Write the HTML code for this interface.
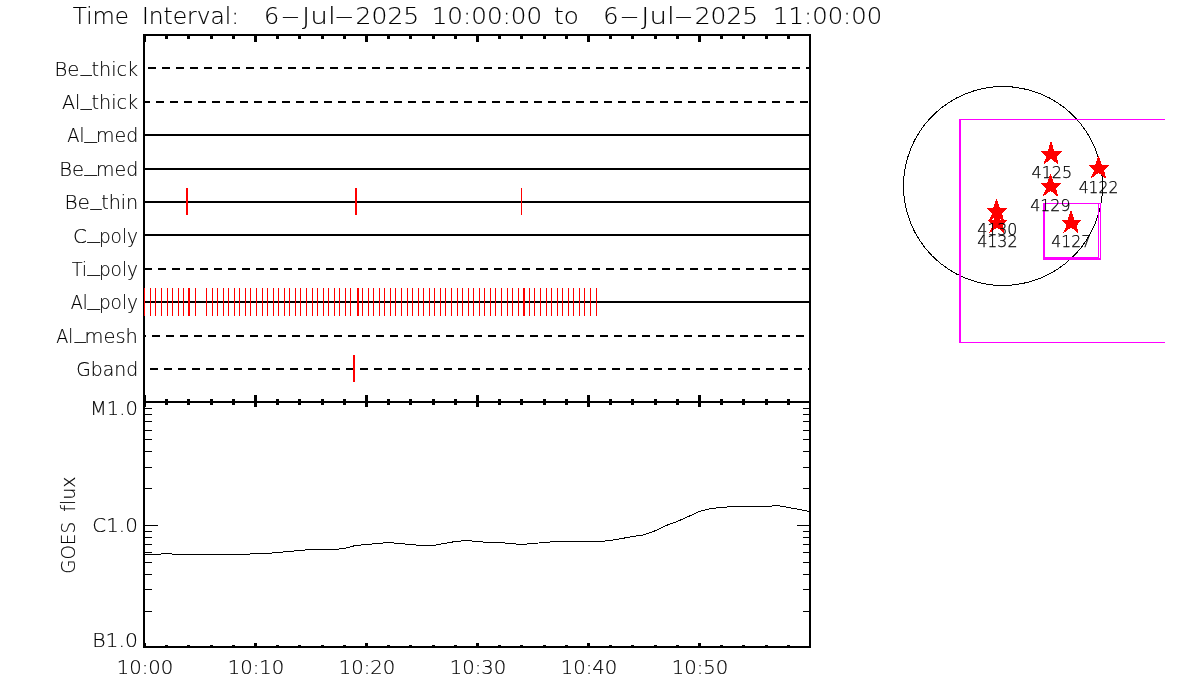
<!DOCTYPE html>
<html lang="en"><head><meta charset="utf-8"><title>Time Interval: 6-Jul-2025 10:00:00 to 6-Jul-2025 11:00:00</title>
<style>
html,body{margin:0;padding:0;background:#fff;overflow:hidden}
svg{display:block}
text{font-family:"DejaVu Sans Light","DejaVu Sans","Liberation Sans",sans-serif;font-weight:200;fill:#000;stroke:#000;stroke-width:0.15px;white-space:pre;font-variant-ligatures:none}
.ar{stroke-width:0.25px}
</style></head>
<body>
<svg width="1200" height="700" viewBox="0 0 1200 700">
<rect width="1200" height="700" fill="#fff"/>
<g id="plot" shape-rendering="crispEdges">
<rect x="143" y="34" width="2" height="614"/>
<rect x="809" y="34" width="2" height="614"/>
<rect x="143" y="34" width="668" height="2"/>
<rect x="143" y="401" width="668" height="2"/>
<rect x="143" y="646" width="668" height="2"/>
<rect x="143" y="36" width="3" height="6"/>
<rect x="143" y="395" width="3" height="12"/>
<rect x="143" y="643" width="3" height="3"/>
<rect x="165" y="36" width="3" height="3"/>
<rect x="165" y="399" width="3" height="6"/>
<rect x="165" y="645" width="3" height="1"/>
<rect x="187" y="36" width="3" height="3"/>
<rect x="187" y="399" width="3" height="6"/>
<rect x="187" y="645" width="3" height="1"/>
<rect x="210" y="36" width="3" height="3"/>
<rect x="210" y="399" width="3" height="6"/>
<rect x="210" y="645" width="3" height="1"/>
<rect x="232" y="36" width="3" height="3"/>
<rect x="232" y="399" width="3" height="6"/>
<rect x="232" y="645" width="3" height="1"/>
<rect x="254" y="36" width="3" height="6"/>
<rect x="254" y="395" width="3" height="12"/>
<rect x="254" y="643" width="3" height="3"/>
<rect x="276" y="36" width="3" height="3"/>
<rect x="276" y="399" width="3" height="6"/>
<rect x="276" y="645" width="3" height="1"/>
<rect x="298" y="36" width="3" height="3"/>
<rect x="298" y="399" width="3" height="6"/>
<rect x="298" y="645" width="3" height="1"/>
<rect x="321" y="36" width="3" height="3"/>
<rect x="321" y="399" width="3" height="6"/>
<rect x="321" y="645" width="3" height="1"/>
<rect x="343" y="36" width="3" height="3"/>
<rect x="343" y="399" width="3" height="6"/>
<rect x="343" y="645" width="3" height="1"/>
<rect x="365" y="36" width="3" height="6"/>
<rect x="365" y="395" width="3" height="12"/>
<rect x="365" y="643" width="3" height="3"/>
<rect x="387" y="36" width="3" height="3"/>
<rect x="387" y="399" width="3" height="6"/>
<rect x="387" y="645" width="3" height="1"/>
<rect x="409" y="36" width="3" height="3"/>
<rect x="409" y="399" width="3" height="6"/>
<rect x="409" y="645" width="3" height="1"/>
<rect x="432" y="36" width="3" height="3"/>
<rect x="432" y="399" width="3" height="6"/>
<rect x="432" y="645" width="3" height="1"/>
<rect x="454" y="36" width="3" height="3"/>
<rect x="454" y="399" width="3" height="6"/>
<rect x="454" y="645" width="3" height="1"/>
<rect x="476" y="36" width="3" height="6"/>
<rect x="476" y="395" width="3" height="12"/>
<rect x="476" y="643" width="3" height="3"/>
<rect x="498" y="36" width="3" height="3"/>
<rect x="498" y="399" width="3" height="6"/>
<rect x="498" y="645" width="3" height="1"/>
<rect x="520" y="36" width="3" height="3"/>
<rect x="520" y="399" width="3" height="6"/>
<rect x="520" y="645" width="3" height="1"/>
<rect x="543" y="36" width="3" height="3"/>
<rect x="543" y="399" width="3" height="6"/>
<rect x="543" y="645" width="3" height="1"/>
<rect x="565" y="36" width="3" height="3"/>
<rect x="565" y="399" width="3" height="6"/>
<rect x="565" y="645" width="3" height="1"/>
<rect x="587" y="36" width="3" height="6"/>
<rect x="587" y="395" width="3" height="12"/>
<rect x="587" y="643" width="3" height="3"/>
<rect x="609" y="36" width="3" height="3"/>
<rect x="609" y="399" width="3" height="6"/>
<rect x="609" y="645" width="3" height="1"/>
<rect x="631" y="36" width="3" height="3"/>
<rect x="631" y="399" width="3" height="6"/>
<rect x="631" y="645" width="3" height="1"/>
<rect x="654" y="36" width="3" height="3"/>
<rect x="654" y="399" width="3" height="6"/>
<rect x="654" y="645" width="3" height="1"/>
<rect x="676" y="36" width="3" height="3"/>
<rect x="676" y="399" width="3" height="6"/>
<rect x="676" y="645" width="3" height="1"/>
<rect x="698" y="36" width="3" height="6"/>
<rect x="698" y="395" width="3" height="12"/>
<rect x="698" y="643" width="3" height="3"/>
<rect x="720" y="36" width="3" height="3"/>
<rect x="720" y="399" width="3" height="6"/>
<rect x="720" y="645" width="3" height="1"/>
<rect x="742" y="36" width="3" height="3"/>
<rect x="742" y="399" width="3" height="6"/>
<rect x="742" y="645" width="3" height="1"/>
<rect x="765" y="36" width="3" height="3"/>
<rect x="765" y="399" width="3" height="6"/>
<rect x="765" y="645" width="3" height="1"/>
<rect x="787" y="36" width="3" height="3"/>
<rect x="787" y="399" width="3" height="6"/>
<rect x="787" y="645" width="3" height="1"/>
<rect x="809" y="36" width="2" height="6"/>
<rect x="809" y="395" width="2" height="12"/>
<rect x="809" y="643" width="2" height="3"/>
<rect x="148" y="67" width="8" height="2"/>
<rect x="162" y="67" width="8" height="2"/>
<rect x="176" y="67" width="8" height="2"/>
<rect x="190" y="67" width="8" height="2"/>
<rect x="204" y="67" width="8" height="2"/>
<rect x="218" y="67" width="8" height="2"/>
<rect x="232" y="67" width="8" height="2"/>
<rect x="246" y="67" width="8" height="2"/>
<rect x="260" y="67" width="8" height="2"/>
<rect x="274" y="67" width="8" height="2"/>
<rect x="288" y="67" width="8" height="2"/>
<rect x="302" y="67" width="8" height="2"/>
<rect x="316" y="67" width="8" height="2"/>
<rect x="330" y="67" width="8" height="2"/>
<rect x="344" y="67" width="8" height="2"/>
<rect x="358" y="67" width="8" height="2"/>
<rect x="372" y="67" width="8" height="2"/>
<rect x="386" y="67" width="8" height="2"/>
<rect x="400" y="67" width="8" height="2"/>
<rect x="414" y="67" width="8" height="2"/>
<rect x="428" y="67" width="8" height="2"/>
<rect x="442" y="67" width="8" height="2"/>
<rect x="456" y="67" width="8" height="2"/>
<rect x="470" y="67" width="8" height="2"/>
<rect x="484" y="67" width="8" height="2"/>
<rect x="498" y="67" width="8" height="2"/>
<rect x="512" y="67" width="8" height="2"/>
<rect x="526" y="67" width="8" height="2"/>
<rect x="540" y="67" width="8" height="2"/>
<rect x="554" y="67" width="8" height="2"/>
<rect x="568" y="67" width="8" height="2"/>
<rect x="582" y="67" width="8" height="2"/>
<rect x="596" y="67" width="8" height="2"/>
<rect x="610" y="67" width="8" height="2"/>
<rect x="624" y="67" width="8" height="2"/>
<rect x="638" y="67" width="8" height="2"/>
<rect x="652" y="67" width="8" height="2"/>
<rect x="666" y="67" width="8" height="2"/>
<rect x="680" y="67" width="8" height="2"/>
<rect x="694" y="67" width="8" height="2"/>
<rect x="708" y="67" width="8" height="2"/>
<rect x="722" y="67" width="8" height="2"/>
<rect x="736" y="67" width="8" height="2"/>
<rect x="750" y="67" width="8" height="2"/>
<rect x="764" y="67" width="8" height="2"/>
<rect x="778" y="67" width="8" height="2"/>
<rect x="792" y="67" width="8" height="2"/>
<rect x="806" y="67" width="3" height="2"/>
<rect x="145" y="101" width="5" height="2"/>
<rect x="156" y="101" width="8" height="2"/>
<rect x="170" y="101" width="8" height="2"/>
<rect x="184" y="101" width="8" height="2"/>
<rect x="198" y="101" width="8" height="2"/>
<rect x="212" y="101" width="8" height="2"/>
<rect x="226" y="101" width="8" height="2"/>
<rect x="240" y="101" width="8" height="2"/>
<rect x="254" y="101" width="8" height="2"/>
<rect x="268" y="101" width="8" height="2"/>
<rect x="282" y="101" width="8" height="2"/>
<rect x="296" y="101" width="8" height="2"/>
<rect x="310" y="101" width="8" height="2"/>
<rect x="324" y="101" width="8" height="2"/>
<rect x="338" y="101" width="8" height="2"/>
<rect x="352" y="101" width="8" height="2"/>
<rect x="366" y="101" width="8" height="2"/>
<rect x="380" y="101" width="8" height="2"/>
<rect x="394" y="101" width="8" height="2"/>
<rect x="408" y="101" width="8" height="2"/>
<rect x="422" y="101" width="8" height="2"/>
<rect x="436" y="101" width="8" height="2"/>
<rect x="450" y="101" width="8" height="2"/>
<rect x="464" y="101" width="8" height="2"/>
<rect x="478" y="101" width="8" height="2"/>
<rect x="492" y="101" width="8" height="2"/>
<rect x="506" y="101" width="8" height="2"/>
<rect x="520" y="101" width="8" height="2"/>
<rect x="534" y="101" width="8" height="2"/>
<rect x="548" y="101" width="8" height="2"/>
<rect x="562" y="101" width="8" height="2"/>
<rect x="576" y="101" width="8" height="2"/>
<rect x="590" y="101" width="8" height="2"/>
<rect x="604" y="101" width="8" height="2"/>
<rect x="618" y="101" width="8" height="2"/>
<rect x="632" y="101" width="8" height="2"/>
<rect x="646" y="101" width="8" height="2"/>
<rect x="660" y="101" width="8" height="2"/>
<rect x="674" y="101" width="8" height="2"/>
<rect x="688" y="101" width="8" height="2"/>
<rect x="702" y="101" width="8" height="2"/>
<rect x="716" y="101" width="8" height="2"/>
<rect x="730" y="101" width="8" height="2"/>
<rect x="744" y="101" width="8" height="2"/>
<rect x="758" y="101" width="8" height="2"/>
<rect x="772" y="101" width="8" height="2"/>
<rect x="786" y="101" width="8" height="2"/>
<rect x="800" y="101" width="8" height="2"/>
<rect x="145" y="134" width="664" height="2"/>
<rect x="145" y="168" width="664" height="2"/>
<rect x="145" y="201" width="664" height="2"/>
<rect x="145" y="234" width="664" height="2"/>
<rect x="145" y="268" width="7" height="2"/>
<rect x="158" y="268" width="8" height="2"/>
<rect x="172" y="268" width="8" height="2"/>
<rect x="186" y="268" width="8" height="2"/>
<rect x="200" y="268" width="8" height="2"/>
<rect x="214" y="268" width="8" height="2"/>
<rect x="228" y="268" width="8" height="2"/>
<rect x="242" y="268" width="8" height="2"/>
<rect x="256" y="268" width="8" height="2"/>
<rect x="270" y="268" width="8" height="2"/>
<rect x="284" y="268" width="8" height="2"/>
<rect x="298" y="268" width="8" height="2"/>
<rect x="312" y="268" width="8" height="2"/>
<rect x="326" y="268" width="8" height="2"/>
<rect x="340" y="268" width="8" height="2"/>
<rect x="354" y="268" width="8" height="2"/>
<rect x="368" y="268" width="8" height="2"/>
<rect x="382" y="268" width="8" height="2"/>
<rect x="396" y="268" width="8" height="2"/>
<rect x="410" y="268" width="8" height="2"/>
<rect x="424" y="268" width="8" height="2"/>
<rect x="438" y="268" width="8" height="2"/>
<rect x="452" y="268" width="8" height="2"/>
<rect x="466" y="268" width="8" height="2"/>
<rect x="480" y="268" width="8" height="2"/>
<rect x="494" y="268" width="8" height="2"/>
<rect x="508" y="268" width="8" height="2"/>
<rect x="522" y="268" width="8" height="2"/>
<rect x="536" y="268" width="8" height="2"/>
<rect x="550" y="268" width="8" height="2"/>
<rect x="564" y="268" width="8" height="2"/>
<rect x="578" y="268" width="8" height="2"/>
<rect x="592" y="268" width="8" height="2"/>
<rect x="606" y="268" width="8" height="2"/>
<rect x="620" y="268" width="8" height="2"/>
<rect x="634" y="268" width="8" height="2"/>
<rect x="648" y="268" width="8" height="2"/>
<rect x="662" y="268" width="8" height="2"/>
<rect x="676" y="268" width="8" height="2"/>
<rect x="690" y="268" width="8" height="2"/>
<rect x="704" y="268" width="8" height="2"/>
<rect x="718" y="268" width="8" height="2"/>
<rect x="732" y="268" width="8" height="2"/>
<rect x="746" y="268" width="8" height="2"/>
<rect x="760" y="268" width="8" height="2"/>
<rect x="774" y="268" width="8" height="2"/>
<rect x="788" y="268" width="8" height="2"/>
<rect x="802" y="268" width="7" height="2"/>
<rect x="145" y="301" width="664" height="2"/>
<rect x="145" y="335" width="1" height="2"/>
<rect x="152" y="335" width="8" height="2"/>
<rect x="166" y="335" width="8" height="2"/>
<rect x="180" y="335" width="8" height="2"/>
<rect x="194" y="335" width="8" height="2"/>
<rect x="208" y="335" width="8" height="2"/>
<rect x="222" y="335" width="8" height="2"/>
<rect x="236" y="335" width="8" height="2"/>
<rect x="250" y="335" width="8" height="2"/>
<rect x="264" y="335" width="8" height="2"/>
<rect x="278" y="335" width="8" height="2"/>
<rect x="292" y="335" width="8" height="2"/>
<rect x="306" y="335" width="8" height="2"/>
<rect x="320" y="335" width="8" height="2"/>
<rect x="334" y="335" width="8" height="2"/>
<rect x="348" y="335" width="8" height="2"/>
<rect x="362" y="335" width="8" height="2"/>
<rect x="376" y="335" width="8" height="2"/>
<rect x="390" y="335" width="8" height="2"/>
<rect x="404" y="335" width="8" height="2"/>
<rect x="418" y="335" width="8" height="2"/>
<rect x="432" y="335" width="8" height="2"/>
<rect x="446" y="335" width="8" height="2"/>
<rect x="460" y="335" width="8" height="2"/>
<rect x="474" y="335" width="8" height="2"/>
<rect x="488" y="335" width="8" height="2"/>
<rect x="502" y="335" width="8" height="2"/>
<rect x="516" y="335" width="8" height="2"/>
<rect x="530" y="335" width="8" height="2"/>
<rect x="544" y="335" width="8" height="2"/>
<rect x="558" y="335" width="8" height="2"/>
<rect x="572" y="335" width="8" height="2"/>
<rect x="586" y="335" width="8" height="2"/>
<rect x="600" y="335" width="8" height="2"/>
<rect x="614" y="335" width="8" height="2"/>
<rect x="628" y="335" width="8" height="2"/>
<rect x="642" y="335" width="8" height="2"/>
<rect x="656" y="335" width="8" height="2"/>
<rect x="670" y="335" width="8" height="2"/>
<rect x="684" y="335" width="8" height="2"/>
<rect x="698" y="335" width="8" height="2"/>
<rect x="712" y="335" width="8" height="2"/>
<rect x="726" y="335" width="8" height="2"/>
<rect x="740" y="335" width="8" height="2"/>
<rect x="754" y="335" width="8" height="2"/>
<rect x="768" y="335" width="8" height="2"/>
<rect x="782" y="335" width="8" height="2"/>
<rect x="796" y="335" width="8" height="2"/>
<rect x="150" y="368" width="8" height="2"/>
<rect x="164" y="368" width="8" height="2"/>
<rect x="178" y="368" width="8" height="2"/>
<rect x="192" y="368" width="8" height="2"/>
<rect x="206" y="368" width="8" height="2"/>
<rect x="220" y="368" width="8" height="2"/>
<rect x="234" y="368" width="8" height="2"/>
<rect x="248" y="368" width="8" height="2"/>
<rect x="262" y="368" width="8" height="2"/>
<rect x="276" y="368" width="8" height="2"/>
<rect x="290" y="368" width="8" height="2"/>
<rect x="304" y="368" width="8" height="2"/>
<rect x="318" y="368" width="8" height="2"/>
<rect x="332" y="368" width="8" height="2"/>
<rect x="346" y="368" width="8" height="2"/>
<rect x="360" y="368" width="8" height="2"/>
<rect x="374" y="368" width="8" height="2"/>
<rect x="388" y="368" width="8" height="2"/>
<rect x="402" y="368" width="8" height="2"/>
<rect x="416" y="368" width="8" height="2"/>
<rect x="430" y="368" width="8" height="2"/>
<rect x="444" y="368" width="8" height="2"/>
<rect x="458" y="368" width="8" height="2"/>
<rect x="472" y="368" width="8" height="2"/>
<rect x="486" y="368" width="8" height="2"/>
<rect x="500" y="368" width="8" height="2"/>
<rect x="514" y="368" width="8" height="2"/>
<rect x="528" y="368" width="8" height="2"/>
<rect x="542" y="368" width="8" height="2"/>
<rect x="556" y="368" width="8" height="2"/>
<rect x="570" y="368" width="8" height="2"/>
<rect x="584" y="368" width="8" height="2"/>
<rect x="598" y="368" width="8" height="2"/>
<rect x="612" y="368" width="8" height="2"/>
<rect x="626" y="368" width="8" height="2"/>
<rect x="640" y="368" width="8" height="2"/>
<rect x="654" y="368" width="8" height="2"/>
<rect x="668" y="368" width="8" height="2"/>
<rect x="682" y="368" width="8" height="2"/>
<rect x="696" y="368" width="8" height="2"/>
<rect x="710" y="368" width="8" height="2"/>
<rect x="724" y="368" width="8" height="2"/>
<rect x="738" y="368" width="8" height="2"/>
<rect x="752" y="368" width="8" height="2"/>
<rect x="766" y="368" width="8" height="2"/>
<rect x="780" y="368" width="8" height="2"/>
<rect x="794" y="368" width="8" height="2"/>
<rect x="808" y="368" width="1" height="2"/>
<rect x="145" y="408" width="7" height="1"/>
<rect x="803" y="408" width="6" height="1"/>
<rect x="145" y="414" width="7" height="1"/>
<rect x="803" y="414" width="6" height="1"/>
<rect x="145" y="421" width="7" height="1"/>
<rect x="803" y="421" width="6" height="1"/>
<rect x="145" y="430" width="7" height="1"/>
<rect x="803" y="430" width="6" height="1"/>
<rect x="145" y="439" width="7" height="1"/>
<rect x="803" y="439" width="6" height="1"/>
<rect x="145" y="451" width="7" height="1"/>
<rect x="803" y="451" width="6" height="1"/>
<rect x="145" y="467" width="7" height="1"/>
<rect x="803" y="467" width="6" height="1"/>
<rect x="145" y="488" width="7" height="1"/>
<rect x="803" y="488" width="6" height="1"/>
<rect x="145" y="531" width="7" height="1"/>
<rect x="803" y="531" width="6" height="1"/>
<rect x="145" y="537" width="7" height="1"/>
<rect x="803" y="537" width="6" height="1"/>
<rect x="145" y="544" width="7" height="1"/>
<rect x="803" y="544" width="6" height="1"/>
<rect x="145" y="552" width="7" height="1"/>
<rect x="803" y="552" width="6" height="1"/>
<rect x="145" y="562" width="7" height="1"/>
<rect x="803" y="562" width="6" height="1"/>
<rect x="145" y="574" width="7" height="1"/>
<rect x="803" y="574" width="6" height="1"/>
<rect x="145" y="589" width="7" height="1"/>
<rect x="803" y="589" width="6" height="1"/>
<rect x="145" y="611" width="7" height="1"/>
<rect x="803" y="611" width="6" height="1"/>
<rect x="145" y="525" width="13" height="1"/>
<rect x="797" y="525" width="12" height="1"/>
<polyline points="144.5,554.5 155.6,554.5 166.7,553.5 177.8,554.5 188.9,554.5 200.0,554.5 211.1,554.5 222.2,554.5 233.3,554.5 244.4,554.5 255.5,553.5 266.6,553.5 277.7,552.5 288.8,551.5 299.9,550.5 311.0,549.5 322.1,549.5 333.2,549.5 344.3,548.5 355.4,545.5 366.5,544.5 377.6,543.5 388.7,542.5 399.8,543.5 410.9,544.5 422.0,545.5 433.1,545.5 444.2,543.5 455.3,541.5 466.4,540.5 477.5,541.5 488.6,542.5 499.7,542.5 510.8,543.5 521.9,544.5 533.0,543.5 544.1,542.5 555.2,541.5 566.3,541.5 577.4,541.5 588.5,541.5 599.6,541.5 610.7,540.5 621.8,538.5 632.9,536.5 644.0,534.8 655.1,530.8 666.2,525.5 677.3,521.5 688.4,516.5 699.5,511.5 710.6,508.5 721.7,507.5 732.8,506.5 743.9,506.5 755.0,506.5 766.1,506.5 777.2,505.5 788.3,507.5 799.4,509.5 809.5,511.5" fill="none" stroke="#000" stroke-width="1"/>
<rect x="186" y="188" width="2" height="27" fill="#f00"/>
<rect x="355" y="188" width="2" height="27" fill="#f00"/>
<rect x="521" y="188" width="1" height="27" fill="#f00"/>
<rect x="144" y="288" width="1" height="28" fill="#f00"/>
<rect x="150" y="288" width="1" height="28" fill="#f00"/>
<rect x="155" y="288" width="1" height="28" fill="#f00"/>
<rect x="161" y="288" width="1" height="28" fill="#f00"/>
<rect x="167" y="288" width="1" height="28" fill="#f00"/>
<rect x="172" y="288" width="1" height="28" fill="#f00"/>
<rect x="178" y="288" width="1" height="28" fill="#f00"/>
<rect x="183" y="288" width="1" height="28" fill="#f00"/>
<rect x="188" y="288" width="2" height="28" fill="#f00"/>
<rect x="195" y="288" width="1" height="28" fill="#f00"/>
<rect x="206" y="288" width="1" height="28" fill="#f00"/>
<rect x="212" y="288" width="1" height="28" fill="#f00"/>
<rect x="217" y="288" width="1" height="28" fill="#f00"/>
<rect x="223" y="288" width="1" height="28" fill="#f00"/>
<rect x="228" y="288" width="1" height="28" fill="#f00"/>
<rect x="234" y="288" width="1" height="28" fill="#f00"/>
<rect x="239" y="288" width="1" height="28" fill="#f00"/>
<rect x="245" y="288" width="1" height="28" fill="#f00"/>
<rect x="250" y="288" width="1" height="28" fill="#f00"/>
<rect x="256" y="288" width="1" height="28" fill="#f00"/>
<rect x="262" y="288" width="1" height="28" fill="#f00"/>
<rect x="267" y="288" width="1" height="28" fill="#f00"/>
<rect x="273" y="288" width="1" height="28" fill="#f00"/>
<rect x="278" y="288" width="1" height="28" fill="#f00"/>
<rect x="284" y="288" width="1" height="28" fill="#f00"/>
<rect x="289" y="288" width="1" height="28" fill="#f00"/>
<rect x="295" y="288" width="1" height="28" fill="#f00"/>
<rect x="300" y="288" width="1" height="28" fill="#f00"/>
<rect x="306" y="288" width="1" height="28" fill="#f00"/>
<rect x="312" y="288" width="1" height="28" fill="#f00"/>
<rect x="317" y="288" width="1" height="28" fill="#f00"/>
<rect x="323" y="288" width="1" height="28" fill="#f00"/>
<rect x="328" y="288" width="1" height="28" fill="#f00"/>
<rect x="334" y="288" width="1" height="28" fill="#f00"/>
<rect x="339" y="288" width="1" height="28" fill="#f00"/>
<rect x="345" y="288" width="1" height="28" fill="#f00"/>
<rect x="350" y="288" width="1" height="28" fill="#f00"/>
<rect x="357" y="288" width="2" height="28" fill="#f00"/>
<rect x="362" y="288" width="1" height="28" fill="#f00"/>
<rect x="368" y="288" width="1" height="28" fill="#f00"/>
<rect x="373" y="288" width="1" height="28" fill="#f00"/>
<rect x="379" y="288" width="1" height="28" fill="#f00"/>
<rect x="384" y="288" width="1" height="28" fill="#f00"/>
<rect x="390" y="288" width="1" height="28" fill="#f00"/>
<rect x="395" y="288" width="1" height="28" fill="#f00"/>
<rect x="401" y="288" width="1" height="28" fill="#f00"/>
<rect x="407" y="288" width="1" height="28" fill="#f00"/>
<rect x="412" y="288" width="1" height="28" fill="#f00"/>
<rect x="418" y="288" width="1" height="28" fill="#f00"/>
<rect x="423" y="288" width="1" height="28" fill="#f00"/>
<rect x="429" y="288" width="1" height="28" fill="#f00"/>
<rect x="434" y="288" width="1" height="28" fill="#f00"/>
<rect x="440" y="288" width="1" height="28" fill="#f00"/>
<rect x="445" y="288" width="1" height="28" fill="#f00"/>
<rect x="451" y="288" width="1" height="28" fill="#f00"/>
<rect x="457" y="288" width="1" height="28" fill="#f00"/>
<rect x="462" y="288" width="1" height="28" fill="#f00"/>
<rect x="468" y="288" width="1" height="28" fill="#f00"/>
<rect x="473" y="288" width="1" height="28" fill="#f00"/>
<rect x="479" y="288" width="1" height="28" fill="#f00"/>
<rect x="484" y="288" width="1" height="28" fill="#f00"/>
<rect x="490" y="288" width="1" height="28" fill="#f00"/>
<rect x="495" y="288" width="1" height="28" fill="#f00"/>
<rect x="501" y="288" width="1" height="28" fill="#f00"/>
<rect x="507" y="288" width="1" height="28" fill="#f00"/>
<rect x="512" y="288" width="1" height="28" fill="#f00"/>
<rect x="518" y="288" width="1" height="28" fill="#f00"/>
<rect x="523" y="288" width="2" height="28" fill="#f00"/>
<rect x="529" y="288" width="1" height="28" fill="#f00"/>
<rect x="534" y="288" width="1" height="28" fill="#f00"/>
<rect x="540" y="288" width="1" height="28" fill="#f00"/>
<rect x="546" y="288" width="1" height="28" fill="#f00"/>
<rect x="551" y="288" width="1" height="28" fill="#f00"/>
<rect x="557" y="288" width="1" height="28" fill="#f00"/>
<rect x="562" y="288" width="1" height="28" fill="#f00"/>
<rect x="568" y="288" width="1" height="28" fill="#f00"/>
<rect x="573" y="288" width="1" height="28" fill="#f00"/>
<rect x="579" y="288" width="1" height="28" fill="#f00"/>
<rect x="584" y="288" width="1" height="28" fill="#f00"/>
<rect x="590" y="288" width="1" height="28" fill="#f00"/>
<rect x="596" y="288" width="1" height="28" fill="#f00"/>
<rect x="353" y="355" width="2" height="27" fill="#f00"/>
</g>
<g id="disk" shape-rendering="crispEdges">
<circle cx="1003" cy="186" r="99.5" fill="none" stroke="#000" stroke-width="1"/>
<rect x="959" y="119" width="2" height="224" fill="#f0f"/>
<rect x="959" y="119" width="206" height="1" fill="#f0f"/>
<rect x="959" y="342" width="206" height="1" fill="#f0f"/>
<rect x="1043" y="203" width="2" height="56" fill="#f0f"/>
<rect x="1043" y="203" width="58" height="1" fill="#f0f"/>
<rect x="1098" y="203" width="1" height="55" fill="#f0f"/>
<rect x="1100" y="203" width="1" height="57" fill="#f0f"/>
<rect x="1043" y="257" width="56" height="1" fill="#f0f"/>
<rect x="1043" y="258" width="58" height="2" fill="#f0f"/>
<polygon points="1098.0,155.9 1099.0,155.9 1101.7,164.9 1109.4,164.9 1109.4,165.3 1104.2,170.8 1105.9,177.9 1104.9,177.9 1098.5,172.8 1091.8,177.9 1090.8,177.9 1094.0,170.8 1088.6,165.3 1088.6,164.9 1095.3,164.9" fill="#f00"/>
<text y="193" font-size="16" class="ar"><tspan id="a4122" x="1078.70" textLength="39.69" lengthAdjust="spacingAndGlyphs">4122</tspan></text>
<polygon points="1050.5,142.0 1051.5,142.0 1054.2,151.0 1061.9,151.1 1061.9,151.4 1056.7,156.9 1058.4,164.0 1057.4,164.0 1051.0,158.9 1044.3,164.0 1043.3,164.0 1046.5,156.9 1041.1,151.4 1041.1,151.1 1047.8,151.0" fill="#f00"/>
<text y="178" font-size="16" class="ar"><tspan id="a4125" x="1031.59" textLength="40.58" lengthAdjust="spacingAndGlyphs">4125</tspan></text>
<polygon points="1070.5,210.5 1071.5,210.5 1074.2,219.5 1081.9,219.6 1081.9,219.9 1076.7,225.4 1078.4,232.5 1077.4,232.5 1071.0,227.4 1064.3,232.5 1063.3,232.5 1066.5,225.4 1061.1,219.9 1061.1,219.6 1067.8,219.5" fill="#f00"/>
<text y="247" font-size="16" class="ar"><tspan id="a4127" x="1051.33" textLength="39.79" lengthAdjust="spacingAndGlyphs">4127</tspan></text>
<polygon points="1050.0,173.9 1051.0,173.9 1053.7,182.9 1061.4,182.9 1061.4,183.3 1056.2,188.8 1057.9,195.9 1056.9,195.9 1050.5,190.8 1043.8,195.9 1042.8,195.9 1046.0,188.8 1040.6,183.3 1040.6,182.9 1047.3,182.9" fill="#f00"/>
<text y="211" font-size="16" class="ar"><tspan id="a4129" x="1030.21" textLength="40.27" lengthAdjust="spacingAndGlyphs">4129</tspan></text>
<polygon points="996.5,210.5 997.5,210.5 1000.2,219.5 1007.9,219.6 1007.9,219.9 1002.7,225.4 1004.4,232.5 1003.4,232.5 997.0,227.4 990.3,232.5 989.3,232.5 992.5,225.4 987.1,219.9 987.1,219.6 993.8,219.5" fill="#f00"/>
<text y="247" font-size="16" class="ar"><tspan id="a4132" x="977.13" textLength="40.44" lengthAdjust="spacingAndGlyphs">4132</tspan></text>
<polygon points="996.0,198.9 997.0,198.9 999.7,207.9 1007.4,207.9 1007.4,208.3 1002.2,213.8 1003.9,220.9 1002.9,220.9 996.5,215.8 989.8,220.9 988.8,220.9 992.0,213.8 986.6,208.3 986.6,207.9 993.3,207.9" fill="#f00"/>
<text y="235" font-size="16" class="ar"><tspan id="a4130" x="977.17" textLength="40.26" lengthAdjust="spacingAndGlyphs">4130</tspan></text>
</g>
<g id="labels">
<text y="24" font-size="22.9"><tspan id="t0" x="72.85" textLength="56.06" lengthAdjust="spacingAndGlyphs">Time</tspan> <tspan id="t1" x="141.90" textLength="97.29" lengthAdjust="spacingAndGlyphs">Interval:</tspan>  <tspan id="t2" x="264.11" textLength="15.22" lengthAdjust="spacingAndGlyphs">6</tspan><tspan id="t3" x="280.24" textLength="20.39" lengthAdjust="spacingAndGlyphs">-</tspan><tspan id="t4" x="302.00" textLength="33.72" lengthAdjust="spacingAndGlyphs">Jul</tspan><tspan id="t5" x="334.05" textLength="20.60" lengthAdjust="spacingAndGlyphs">-</tspan><tspan id="t6" x="355.62" textLength="63.68" lengthAdjust="spacingAndGlyphs">2025</tspan> <tspan id="t7" x="431.69" textLength="110.40" lengthAdjust="spacingAndGlyphs">10:00:00</tspan> <tspan id="t8" x="554.02" textLength="24.71" lengthAdjust="spacingAndGlyphs">to</tspan>  <tspan id="t9" x="603.29" textLength="15.22" lengthAdjust="spacingAndGlyphs">6</tspan><tspan id="t10" x="619.35" textLength="20.50" lengthAdjust="spacingAndGlyphs">-</tspan><tspan id="t11" x="641.31" textLength="33.45" lengthAdjust="spacingAndGlyphs">Jul</tspan><tspan id="t12" x="673.45" textLength="20.11" lengthAdjust="spacingAndGlyphs">-</tspan><tspan id="t13" x="694.79" textLength="63.37" lengthAdjust="spacingAndGlyphs">2025</tspan> <tspan id="t14" x="773.11" textLength="109.06" lengthAdjust="spacingAndGlyphs">11:00:00</tspan></text>
<text y="75.7" font-size="20.1"><tspan id="l0_0" x="54.53" textLength="24.85" lengthAdjust="spacingAndGlyphs">Be</tspan><tspan id="l0_1" x="80.70" dy="-4.50" textLength="10.95" lengthAdjust="spacingAndGlyphs">_</tspan><tspan id="l0_2" x="91.55" dy="4.50" textLength="46.53" lengthAdjust="spacingAndGlyphs">thick</tspan></text>
<text y="109.0" font-size="20.1"><tspan id="l1_0" x="61.94" textLength="18.37" lengthAdjust="spacingAndGlyphs">Al</tspan><tspan id="l1_1" x="80.70" dy="-4.50" textLength="10.95" lengthAdjust="spacingAndGlyphs">_</tspan><tspan id="l1_2" x="91.55" dy="4.50" textLength="46.53" lengthAdjust="spacingAndGlyphs">thick</tspan></text>
<text y="142.4" font-size="20.1"><tspan id="l2_0" x="67.23" textLength="17.19" lengthAdjust="spacingAndGlyphs">Al</tspan><tspan id="l2_1" x="84.62" dy="-4.50" textLength="12.34" lengthAdjust="spacingAndGlyphs">_</tspan><tspan id="l2_2" x="96.01" dy="4.50" textLength="42.18" lengthAdjust="spacingAndGlyphs">med</tspan></text>
<text y="175.7" font-size="20.1"><tspan id="l3_0" x="59.33" textLength="24.75" lengthAdjust="spacingAndGlyphs">Be</tspan><tspan id="l3_1" x="84.62" dy="-4.50" textLength="12.34" lengthAdjust="spacingAndGlyphs">_</tspan><tspan id="l3_2" x="96.01" dy="4.50" textLength="42.18" lengthAdjust="spacingAndGlyphs">med</tspan></text>
<text y="209.1" font-size="20.1"><tspan id="l4_0" x="64.47" textLength="25.46" lengthAdjust="spacingAndGlyphs">Be</tspan><tspan id="l4_1" x="90.45" dy="-4.50" textLength="10.93" lengthAdjust="spacingAndGlyphs">_</tspan><tspan id="l4_2" x="101.14" dy="4.50" textLength="37.15" lengthAdjust="spacingAndGlyphs">thin</tspan></text>
<text y="242.5" font-size="20.1"><tspan id="l5_0" x="73.02" textLength="13.97" lengthAdjust="spacingAndGlyphs">C</tspan><tspan id="l5_1" x="87.63" dy="-4.50" textLength="12.32" lengthAdjust="spacingAndGlyphs">_</tspan><tspan id="l5_2" x="98.88" dy="4.50" textLength="39.14" lengthAdjust="spacingAndGlyphs">poly</tspan></text>
<text y="275.8" font-size="20.1"><tspan id="l6_0" x="71.84" textLength="15.19" lengthAdjust="spacingAndGlyphs">Ti</tspan><tspan id="l6_1" x="87.63" dy="-4.50" textLength="12.32" lengthAdjust="spacingAndGlyphs">_</tspan><tspan id="l6_2" x="98.88" dy="4.50" textLength="39.14" lengthAdjust="spacingAndGlyphs">poly</tspan></text>
<text y="309.2" font-size="20.1"><tspan id="l7_0" x="70.67" textLength="16.88" lengthAdjust="spacingAndGlyphs">Al</tspan><tspan id="l7_1" x="87.63" dy="-4.50" textLength="12.32" lengthAdjust="spacingAndGlyphs">_</tspan><tspan id="l7_2" x="98.88" dy="4.50" textLength="39.14" lengthAdjust="spacingAndGlyphs">poly</tspan></text>
<text y="342.5" font-size="20.1"><tspan id="l8_0" x="56.29" textLength="16.99" lengthAdjust="spacingAndGlyphs">Al</tspan><tspan id="l8_1" x="74.70" dy="-4.50" textLength="10.95" lengthAdjust="spacingAndGlyphs">_</tspan><tspan id="l8_2" x="84.62" dy="4.50" textLength="53.29" lengthAdjust="spacingAndGlyphs">mesh</tspan></text>
<text y="375.9" font-size="20.1"><tspan id="l9_0" x="76.19" textLength="61.91" lengthAdjust="spacingAndGlyphs">Gband</tspan></text>
<text y="415" font-size="19.2"><tspan id="yM" x="90.02" textLength="47.88" lengthAdjust="spacingAndGlyphs">M1.0</tspan></text>
<text y="532" font-size="19.2"><tspan id="yC" x="92.35" textLength="45.49" lengthAdjust="spacingAndGlyphs">C1.0</tspan></text>
<text y="647" font-size="19.2"><tspan id="yB" x="92.27" textLength="45.74" lengthAdjust="spacingAndGlyphs">B1.0</tspan></text>
<text y="674" font-size="19.2"><tspan id="x0" x="116.70" textLength="56.57" lengthAdjust="spacingAndGlyphs">10:00</tspan></text>
<text y="674" font-size="19.2"><tspan id="x1" x="227.70" textLength="56.57" lengthAdjust="spacingAndGlyphs">10:10</tspan></text>
<text y="674" font-size="19.2"><tspan id="x2" x="338.70" textLength="56.57" lengthAdjust="spacingAndGlyphs">10:20</tspan></text>
<text y="674" font-size="19.2"><tspan id="x3" x="449.70" textLength="56.57" lengthAdjust="spacingAndGlyphs">10:30</tspan></text>
<text y="674" font-size="19.2"><tspan id="x4" x="560.70" textLength="56.57" lengthAdjust="spacingAndGlyphs">10:40</tspan></text>
<text y="674" font-size="19.2"><tspan id="x5" x="671.70" textLength="56.57" lengthAdjust="spacingAndGlyphs">10:50</tspan></text>
<text transform="translate(74.5,572.3) rotate(-90)" font-size="19.2"><tspan id="goes0" x="-1.50" textLength="51.91" lengthAdjust="spacingAndGlyphs">GOES</tspan> <tspan id="goes1" x="60.55" textLength="35.13" lengthAdjust="spacingAndGlyphs">flux</tspan></text>
</g>
</svg>
</body></html>
